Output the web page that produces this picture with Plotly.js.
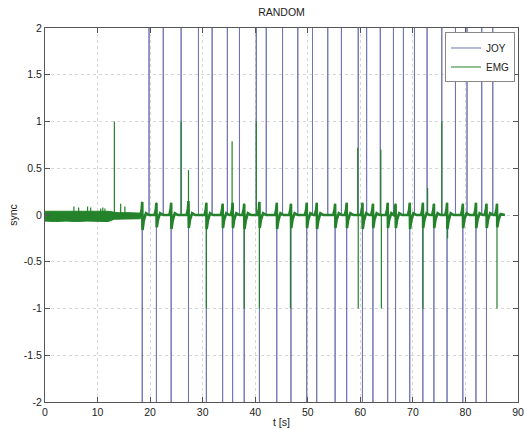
<!DOCTYPE html>
<html>
<head>
<meta charset="utf-8">
<script src="https://cdn.plot.ly/plotly-3.0.1.min.js"></script>
<style>html,body{margin:0;padding:0;background:#fff;}#chart{width:525px;height:430px;}</style>
</head>
<body>
<div id="chart"></div>
<script>
// JOY sync pulses (times in s) going up / down (off-scale)
var joyUpT = [19.8,22.5,25.9,29.2,31.8,34.7,37.0,40.2,42.1,45.2,48.1,50.9,53.8,56.4,59.6,61.2,63.8,66.3,68.2,70.3,72.7,75.5,78.1,80.3,83.1,85.2];
var joyDownT = [18.5,21.2,24.0,27.3,30.7,33.8,35.7,37.9,40.8,44.1,46.8,49.8,51.7,55.2,57.4,60.4,62.4,65.2,66.7,69.4,71.9,74.0,76.5,79.5,82.0,84.0];
var joyPulse = 5;
var joyEnd = 87.5;

// EMG baseline noise band before the task starts
var bandT  = [0, 2, 4, 6, 8, 10, 12, 13.2, 14, 16, 18.15];
var bandHi = [0.04, 0.04, 0.035, 0.04, 0.04, 0.035, 0.04, 0.03, 0.025, 0.025, 0.02];
var bandLo = [-0.065, -0.07, -0.065, -0.07, -0.065, -0.065, -0.07, -0.045, -0.045, -0.045, -0.04];

// EMG trace
var emgT = [0,18.15,
18.4,18.5,18.56,18.8,19.2,19.8,
20.85,21.1,21.2,21.26,21.5,21.9,22.5,
23.65,23.9,24.0,24.06,24.3,24.7,25.3,
26.95,27.2,27.3,27.36,27.6,28.0,28.6,
30.35,30.6,30.7,30.76,31.0,31.4,32.0,
33.45,33.7,33.8,33.86,34.1,34.5,35.1,
35.35,35.6,35.7,35.76,36.0,36.4,37.0,
37.55,37.8,37.9,37.96,38.2,38.6,39.2,
40.45,40.7,40.8,40.86,41.1,41.5,42.1,
43.75,44.0,44.1,44.16,44.4,44.8,45.4,
46.45,46.7,46.8,46.86,47.1,47.5,48.1,
49.45,49.7,49.8,49.86,50.1,50.5,51.1,
51.35,51.6,51.7,51.76,52.0,52.4,53.0,
54.85,55.1,55.2,55.26,55.5,55.9,56.5,
57.05,57.3,57.4,57.46,57.7,58.1,58.7,
60.05,60.3,60.4,60.46,60.7,61.1,61.7,
62.05,62.3,62.4,62.46,62.7,63.1,63.7,
64.85,65.1,65.2,65.26,65.5,65.9,
66.35,66.6,66.7,66.76,67.0,67.4,68.0,
69.05,69.3,69.4,69.46,69.7,70.1,70.7,
71.55,71.8,71.9,71.96,72.2,72.6,73.2,
73.65,73.9,74.0,74.06,74.3,74.7,75.3,
76.15,76.4,76.5,76.56,76.8,77.2,77.8,
79.15,79.4,79.5,79.56,79.8,80.2,80.8,
81.65,81.9,82.0,82.06,82.3,82.7,83.3,
83.65,83.9,84.0,84.06,84.3,84.7,85.3,
85.65,85.9,86.0,86.06,86.3,86.7,87.5];
var emgY = [-0.01,-0.005,
0.06,0.14,-0.16,-0.06,0.02,0.0,
0.0,0.06,0.13,-0.13,-0.05,0.02,0.0,
0.0,0.06,0.13,-0.15,-0.06,0.02,0.0,
0.0,0.07,0.15,-0.14,-0.05,0.02,0.0,
0.0,0.06,0.13,-0.15,-0.06,0.02,0.0,
0.0,0.06,0.12,-0.14,-0.05,0.02,0.0,
0.0,0.06,0.13,-0.14,-0.05,0.02,0.0,
0.0,0.06,0.12,-0.15,-0.06,0.02,0.0,
0.0,0.07,0.14,-0.14,-0.05,0.02,0.0,
0.0,0.06,0.13,-0.15,-0.06,0.02,0.0,
0.0,0.06,0.12,-0.14,-0.05,0.02,0.0,
0.0,0.06,0.13,-0.14,-0.05,0.02,0.0,
0.0,0.06,0.13,-0.15,-0.06,0.02,0.0,
0.0,0.06,0.12,-0.14,-0.05,0.02,0.0,
0.0,0.06,0.13,-0.14,-0.05,0.02,0.0,
0.0,0.06,0.13,-0.15,-0.06,0.02,0.0,
0.0,0.06,0.12,-0.14,-0.05,0.02,0.0,
0.0,0.06,0.13,-0.14,-0.05,0.02,
0.0,0.06,0.12,-0.14,-0.05,0.02,0.0,
0.0,0.06,0.13,-0.15,-0.06,0.02,0.0,
0.0,0.06,0.13,-0.14,-0.05,0.02,0.0,
0.0,0.06,0.12,-0.14,-0.05,0.02,0.0,
0.0,0.06,0.13,-0.15,-0.06,0.02,0.0,
0.0,0.06,0.12,-0.14,-0.05,0.02,0.0,
0.0,0.06,0.13,-0.14,-0.05,0.02,0.0,
0.0,0.06,0.12,-0.14,-0.05,0.02,0.0,
0.0,0.06,0.12,-0.13,-0.05,0.01,0.0];

// EMG single-sample spikes
var emgSpikeT = [5.5,6.4,8.1,8.7,10.6,11.0,11.4,13.2,14.4,15.2,25.9,27.3,30.7,35.6,37.9,40.2,40.8,46.7,59.5,59.6,63.9,64.0,71.9,72.8,75.5,76.6,86.0];
var emgSpikeV = [0.09,0.08,0.09,0.08,0.07,0.08,0.07,1.0,0.12,0.09,1.0,0.48,-1.0,0.79,-1.0,1.0,-1.0,-1.0,0.72,-1.0,0.70,-1.0,-1.0,0.29,1.0,-0.25,-1.0];

var xTickVals = [0,10,20,30,40,50,60,70,80,90];
var yTickVals = [-2,-1.5,-1,-0.5,0,0.5,1,1.5,2];
var yTickText = ['-2','-1.5','-1','-0.5','0','0.5','1','1.5','2'];

var joyColor = 'rgb(112,118,178)';
var emgColor = '#23822a';

// build JOY pulse line
var ev = [];
joyUpT.forEach(function(t){ ev.push([t, joyPulse]); });
joyDownT.forEach(function(t){ ev.push([t, -joyPulse]); });
ev.sort(function(a,b){return a[0]-b[0];});
var jx = [0], jy = [0];
ev.forEach(function(e){ jx.push(e[0], e[0], e[0]); jy.push(0, e[1], 0); });
jx.push(joyEnd); jy.push(0);

var bx = bandT.concat(bandT.slice().reverse());
var by = bandHi.concat(bandLo.slice().reverse());

var sx = [], sy = [];
emgSpikeT.forEach(function(t,i){ sx.push(t,t,null); sy.push(0, emgSpikeV[i], null); });

var font = 'Liberation Sans, Arial, Helvetica, sans-serif';

var data = [
  {x: jx, y: jy, type: 'scatter', mode: 'lines', name: 'JOY', line: {color: joyColor, width: 1}},
  {x: emgT, y: emgY, type: 'scatter', mode: 'lines', name: 'EMG', line: {color: emgColor, width: 1}},
  {x: emgT, y: emgY, type: 'scatter', mode: 'lines', line: {color: emgColor, width: 2.6}, showlegend: false, hoverinfo: 'skip'},
  {x: bx, y: by, type: 'scatter', mode: 'lines', fill: 'toself', fillcolor: emgColor, line: {color: emgColor, width: 1}, showlegend: false, hoverinfo: 'skip'},
  {x: sx, y: sy, type: 'scatter', mode: 'lines', line: {color: emgColor, width: 1.2}, showlegend: false, connectgaps: false, hoverinfo: 'skip'}
];

var layout = {
  width: 525, height: 430,
  margin: {l: 45, r: 7, t: 28, b: 28, pad: 0},
  paper_bgcolor: '#ffffff', plot_bgcolor: '#ffffff',
  font: {family: font, size: 10.5, color: '#222'},
  title: {text: 'RANDOM', font: {family: font, size: 10.5, color: '#222'}, xref: 'paper', x: 0.5, xanchor: 'center', yref: 'container', y: 0.972, yanchor: 'middle'},
  showlegend: true,
  legend: {x: 0.9937, xanchor: 'right', y: 0.988, yanchor: 'top', bgcolor: '#ffffff', bordercolor: '#888', borderwidth: 1, font: {family: font, size: 10, color: '#222'}, tracegroupgap: 0},
  xaxis: {
    range: [0, 90], tickvals: xTickVals, ticks: 'inside', ticklen: 5, tickcolor: '#555',
    showline: true, linecolor: '#555', linewidth: 1, mirror: 'ticks',
    showgrid: true, gridcolor: '#d6d6d6', griddash: 'dot', gridwidth: 1, zeroline: false,
    tickfont: {family: font, size: 10.5, color: '#222'},
    title: {text: 't [s]', font: {family: font, size: 10.5, color: '#222'}, standoff: 2},
    automargin: false
  },
  yaxis: {
    range: [-2, 2], tickvals: yTickVals, ticktext: yTickText, ticks: 'inside', ticklen: 5, tickcolor: '#555',
    showline: true, linecolor: '#555', linewidth: 1, mirror: 'ticks',
    showgrid: true, gridcolor: '#d6d6d6', griddash: 'dot', gridwidth: 1, zeroline: false,
    tickfont: {family: font, size: 10.5, color: '#222'},
    title: {text: 'sync', font: {family: font, size: 10.5, color: '#222'}, standoff: 4},
    automargin: false
  }
};

Plotly.newPlot('chart', data, layout, {displayModeBar: false, staticPlot: true});
</script>
</body>
</html>
